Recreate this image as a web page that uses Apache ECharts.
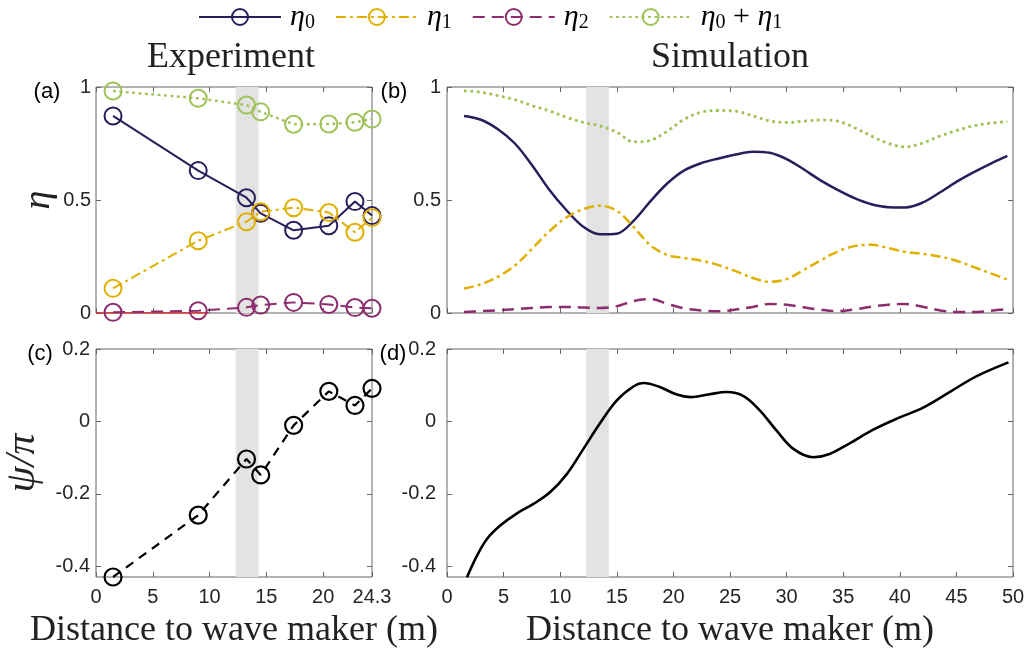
<!DOCTYPE html>
<html>
<head>
<meta charset="utf-8">
<script src="https://cdn.jsdelivr.net/npm/echarts@6/dist/echarts.min.js"></script>
<style>
  html, body { margin: 0; padding: 0; background: #fff; }
  #chart { width: 1029px; height: 654px; }
</style>
</head>
<body>
<div id="chart"></div>
<script>
// ---- measured efficiencies along the flume (experiment) ----
const expX    = [1.5, 9.0, 13.25, 14.5, 17.4, 20.5, 22.8, 24.3];
const expEta0 = [0.872, 0.630, 0.510, 0.441, 0.366, 0.386, 0.493, 0.431];
const expEta1 = [0.109, 0.320, 0.404, 0.448, 0.466, 0.445, 0.357, 0.422];
const expEta2 = [0.003, 0.010, 0.025, 0.035, 0.047, 0.038, 0.024, 0.021];
const expSum  = [0.982, 0.950, 0.920, 0.890, 0.835, 0.836, 0.844, 0.858];
const expPsi  = [-0.43, -0.259, -0.104, -0.148, -0.011, 0.083, 0.044, 0.091];

// ---- simulated efficiencies ----
const simX    = [1.5, 3, 4.5, 6, 7.5, 9, 10.5, 12, 13.5, 15, 16.5, 18, 19.5, 21, 22.5, 24, 25.5,
                 27, 28.5, 30, 31.5, 33, 34.5, 36, 37.5, 39, 40.5, 42, 43.5, 45, 46.5, 48, 49.5];
const simEta0 = [0.872, 0.855, 0.813, 0.750, 0.655, 0.548, 0.458, 0.383, 0.348, 0.351, 0.409, 0.496, 0.575,
                 0.632, 0.664, 0.684, 0.701, 0.714, 0.709, 0.681, 0.636, 0.587, 0.545, 0.508, 0.481, 0.468,
                 0.467, 0.488, 0.532, 0.580, 0.622, 0.660, 0.695];
const simEta1 = [0.108, 0.127, 0.160, 0.210, 0.283, 0.360, 0.421, 0.459, 0.475, 0.452, 0.380, 0.298, 0.256,
                 0.243, 0.231, 0.212, 0.185, 0.155, 0.138, 0.150, 0.190, 0.233, 0.272, 0.296, 0.302, 0.287,
                 0.270, 0.262, 0.250, 0.231, 0.204, 0.176, 0.148];
const simEta2 = [0.004, 0.008, 0.012, 0.017, 0.022, 0.026, 0.027, 0.024, 0.022, 0.030, 0.053, 0.061, 0.040,
                 0.020, 0.011, 0.008, 0.015, 0.027, 0.040, 0.036, 0.025, 0.014, 0.008, 0.016, 0.028, 0.037,
                 0.040, 0.028, 0.012, 0.004, 0.004, 0.010, 0.018];
const simSum  = [0.983, 0.977, 0.962, 0.944, 0.918, 0.895, 0.867, 0.844, 0.828, 0.800, 0.757, 0.764, 0.806,
                 0.858, 0.889, 0.896, 0.893, 0.873, 0.850, 0.843, 0.849, 0.854, 0.849, 0.820, 0.783, 0.750,
                 0.735, 0.752, 0.782, 0.807, 0.828, 0.840, 0.847];

// ---- simulated relative phase ----
const psiSimX = [1.76, 2.65, 3.53, 4.7, 6.18, 7.64, 9.1, 10.6, 12.05, 13.5, 15.0, 16.5, 17.35, 18.8, 20.3, 21.5,
                 23.2, 24.7, 26.2, 27.65, 29.1, 30.6, 32.35, 33.8, 35.6, 37.65, 39.7, 42.06, 44.4, 46.8, 49.6];
const psiSim  = [-0.431, -0.371, -0.325, -0.288, -0.254, -0.228, -0.196, -0.145, -0.076, -0.006, 0.058, 0.097,
                 0.106, 0.095, 0.074, 0.067, 0.075, 0.081, 0.070, 0.030, -0.025, -0.076, -0.099, -0.090,
                 -0.060, -0.023, 0.007, 0.038, 0.081, 0.125, 0.163];

// thin red reference segment on the zero line of panel (a)
const redX = [0, 9.9];
const redY = [0, 0];

// shaded region
const band = [12.3, 14.3];

// tick labels
const expTicks = [0, 5, 10, 15, 20, 24.3];
const simTicks = [0, 5, 10, 15, 20, 25, 30, 35, 40, 45, 50];
const etaTicks = [0, 0.5, 1];
const psiTicks = [-0.4, -0.2, 0, 0.2];

const C0 = '#2B1D5C', C1 = '#E0B000', C2 = '#8C2D6E', C3 = '#9FC257';
const FRAME = '#666';
const SERIF = '"Liberation Serif", "DejaVu Serif", serif';
const SANS = '"Liberation Sans", Arial, sans-serif';

const zip = (xs, ys) => xs.map((x, i) => [x, ys[i]]);

const grids = [
  { left: 96,  top: 87,  width: 276, height: 226 },
  { left: 447, top: 87,  width: 566, height: 226 },
  { left: 96,  top: 349, width: 276, height: 228 },
  { left: 447, top: 349, width: 566, height: 228 }
].map(g => Object.assign({ show: true, borderColor: FRAME, borderWidth: 1, backgroundColor: 'transparent' }, g));

const nameStyle = { fontFamily: SERIF, fontSize: 36, color: '#222' };

function xAxes(g, min, max, ticks, labels, name) {
  const base = {
    type: 'value', gridIndex: g, min: min, max: max,
    axisLine: { show: false, onZero: false }, splitLine: { show: false },
    axisTick: { show: true, inside: true, length: 5, lineStyle: { color: FRAME }, customValues: ticks }
  };
  return [
    Object.assign({}, base, {
      position: 'bottom',
      axisLabel: { show: labels, customValues: ticks, formatter: v => String(v),
                   color: '#262626', fontFamily: SANS, fontSize: 20, margin: 10 },
      name: name, nameLocation: 'middle', nameGap: 36, nameTextStyle: nameStyle
    }),
    Object.assign({}, base, { position: 'top', axisLabel: { show: false } })
  ];
}

function yAxes(g, min, max, ticks, margin, name, gap, size) {
  const base = {
    type: 'value', gridIndex: g, min: min, max: max,
    axisLine: { show: false, onZero: false }, splitLine: { show: false },
    axisTick: { show: true, inside: true, length: 5, lineStyle: { color: FRAME }, customValues: ticks }
  };
  return [
    Object.assign({}, base, {
      position: 'left',
      axisLabel: { show: true, customValues: ticks, formatter: v => String(v),
                   color: '#262626', fontFamily: SANS, fontSize: 20, margin: margin },
      name: name, nameLocation: 'middle', nameRotate: 90, nameGap: gap,
      nameTextStyle: { fontFamily: SERIF, fontStyle: 'italic', fontSize: size, color: '#222' }
    }),
    Object.assign({}, base, { position: 'right', axisLabel: { show: false } })
  ];
}

const xAxis = [].concat(
  xAxes(0, 0, 24.3, expTicks, false, ''),
  xAxes(1, 0, 50, simTicks, false, ''),
  xAxes(2, 0, 24.3, expTicks, true, 'Distance to wave maker (m)'),
  xAxes(3, 0, 50, simTicks, true, 'Distance to wave maker (m)')
);
// axis indices: grid g -> main axis 2g, mirrored axis 2g+1
const yAxis = [].concat(
  yAxes(0, 0, 1, etaTicks, 5, 'η', 38, 38),
  yAxes(1, 0, 1, etaTicks, 6, '', 40, 38),
  yAxes(2, -0.43, 0.2, psiTicks, 6, 'ψ/π', 52, 42),
  yAxes(3, -0.43, 0.2, psiTicks, 11, '', 40, 38)
);

function bandSeries(g) {
  return {
    type: 'line', xAxisIndex: 2 * g, yAxisIndex: 2 * g, data: [], silent: true, z: 1,
    markArea: { silent: true, itemStyle: { color: '#E3E3E3' },
                data: [[{ xAxis: band[0] }, { xAxis: band[1] }]] }
  };
}

function expLine(name, ys, color, width, dash, g) {
  return {
    name: name, type: 'line', xAxisIndex: 2 * g, yAxisIndex: 2 * g, data: zip(expX, ys),
    clip: false, z: 4,
    symbol: 'circle', symbolSize: 17,
    itemStyle: { color: 'transparent', borderColor: color, borderWidth: 2 },
    lineStyle: { color: color, width: width, type: dash, cap: 'butt' },
    emphasis: { disabled: true }
  };
}

function simLine(name, xs, ys, color, width, dash, g) {
  return {
    name: name, type: 'line', xAxisIndex: 2 * g, yAxisIndex: 2 * g, data: zip(xs, ys),
    smooth: 0.35, symbol: 'none', z: 3, color: color,
    lineStyle: { color: color, width: width, type: dash, cap: 'butt' },
    emphasis: { disabled: true }
  };
}

const DASHDOT = [10, 4, 3, 4];
const DASH = [12, 7];
const DOT = [2.8, 3.6];

const series = [
  bandSeries(0), bandSeries(1), bandSeries(2), bandSeries(3),
  {
    type: 'line', xAxisIndex: 0, yAxisIndex: 0, data: zip(redX, redY), symbol: 'none', z: 2,
    lineStyle: { color: '#E02020', width: 1.5 }, silent: true
  },
  expLine('η0', expEta0, C0, 2, 'solid', 0),
  expLine('η1', expEta1, C1, 2, DASHDOT, 0),
  expLine('η2', expEta2, C2, 2, DASH, 0),
  expLine('η0+η1', expSum, C3, 2.4, DOT, 0),
  simLine('η0', simX, simEta0, C0, 2.5, 'solid', 1),
  simLine('η1', simX, simEta1, C1, 2.5, DASHDOT, 1),
  simLine('η2', simX, simEta2, C2, 2.5, DASH, 1),
  simLine('η0+η1', simX, simSum, C3, 2.8, DOT, 1),
  {
    name: 'psiExp', type: 'line', xAxisIndex: 4, yAxisIndex: 4, data: zip(expX, expPsi),
    clip: false, z: 4, symbol: 'circle', symbolSize: 17,
    itemStyle: { color: 'transparent', borderColor: '#000', borderWidth: 2.2 },
    lineStyle: { color: '#000', width: 2.2, type: [9, 7], cap: 'butt' }
  },
  simLine('psiSim', psiSimX, psiSim, '#000', 2.6, 'solid', 3)
];

const legendText = {
  'η0': '{e|η}{s|0}',
  'η1': '{e|η}{s|1}',
  'η2': '{e|η}{s|2}',
  'η0+η1': '{e|η}{s|0}{p| + }{e|η}{s|1}'
};

const textEl = (x, y, text, font, fill) => ({
  type: 'text', x: x, y: y,
  style: { text: text, font: font, fill: fill, align: 'center', verticalAlign: 'middle',
           textAlign: 'center', textVerticalAlign: 'middle' }
});

const chart = echarts.init(document.getElementById('chart'), null, { renderer: 'canvas' });
chart.setOption({
  animation: false,
  backgroundColor: '#fff',
  grid: grids,
  xAxis: xAxis,
  yAxis: yAxis,
  legend: {
    data: ['η0', 'η1', 'η2', 'η0+η1'],
    left: 198, top: 2, padding: 0,
    itemWidth: 82, itemHeight: 20, itemGap: 20,
    selectedMode: false,
    formatter: n => legendText[n],
    textStyle: {
      padding: [0, 0, 0, 4],
      rich: {
        e: { fontFamily: SERIF, fontStyle: 'italic', fontSize: 30, lineHeight: 32, color: '#000' },
        s: { fontFamily: SERIF, fontSize: 20, lineHeight: 16, verticalAlign: 'bottom', color: '#000' },
        p: { fontFamily: SERIF, fontSize: 30, lineHeight: 32, color: '#000' }
      }
    }
  },
  graphic: [
    textEl(231, 58, 'Experiment', '36px ' + SERIF, '#222'),
    textEl(730, 58, 'Simulation', '36px ' + SERIF, '#222'),
    textEl(47, 92, '(a)', '22px ' + SANS, '#000'),
    textEl(394, 92, '(b)', '22px ' + SANS, '#000'),
    textEl(40, 354, '(c)', '22px ' + SANS, '#000'),
    textEl(393, 354, '(d)', '22px ' + SANS, '#000')
  ],
  series: series
});
</script>
</body>
</html>
